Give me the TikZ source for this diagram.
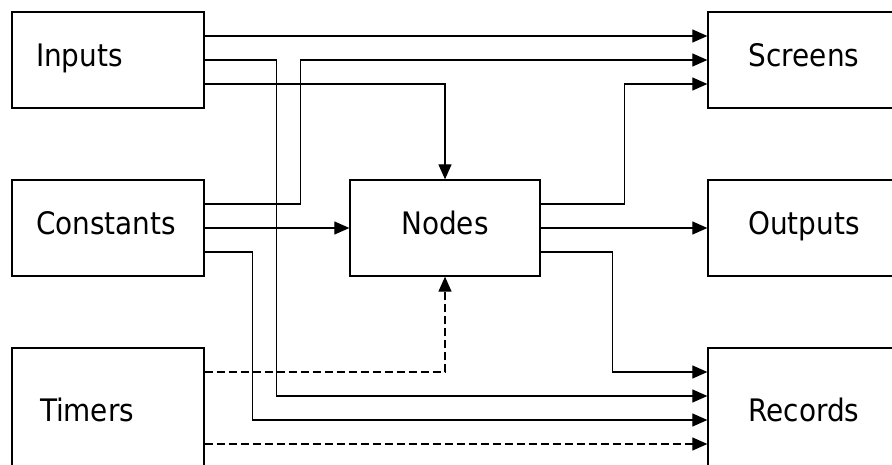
\documentclass[tikz,border=0pt]{standalone}
\usepackage{fontspec}
\setmainfont{DejaVu Sans Condensed}
\usetikzlibrary{arrows.meta}

\tikzset{
  box/.style={rectangle, draw, line width=1.3pt, minimum width=192pt, minimum height=96pt,
    inner sep=0pt, font=\fontsize{31}{36}\selectfont, text height=23pt, text depth=9pt},
  leftbox/.style={box, text width=144pt, inner xsep=24pt, align=left},
  tallbox/.style={minimum height=132pt},
  link/.style={line width=1.2pt, -{Triangle[length=15pt,width=13pt]}},
}

\begin{document}
\begin{tikzpicture}[x=1pt, y=-1pt]
  \useasboundingbox (0,0) rectangle (892,465);
  \clip (0,0) rectangle (892,465);

  % Define nodes
  \node (inputs) [leftbox] at (108,60) {Inputs};
  \node (constants) [leftbox] at (108,228) {Constants};
  \node (timers) [leftbox,tallbox,text width=140pt,inner xsep=26pt] at (108,414) {\hspace*{2pt}Timers};
  \node (nodes) [box,minimum width=190pt] at (445,228) {Nodes};
  \node (screens) [box] at (804,60) {Screens};
  \node (outputs) [box] at (804,228) {Outputs};
  \node (records) [box,tallbox] at (804,414) {Records};

  % Draw edges
  \draw [link] ([yshift=24pt]inputs.east) -- ([yshift=24pt]screens.west);
  \draw [link] (inputs.east) -- ++(72,0) |- ([yshift=18pt]records.west);
  \draw [link] ([yshift=-24pt]inputs.east) -| (nodes.north);
  \draw [link] ([yshift=24pt]constants.east) -- ++(96,0) |- (screens.west);
  \draw [link] (constants.east) -- (nodes.west);
  \draw [link] ([yshift=-24pt]constants.east) -- ++(48,0) |- ([yshift=-6pt]records.west);
  \draw [link] ([yshift=24pt]nodes.east) -- ++(84,0) |- ([yshift=-24pt]screens.west);
  \draw [link] (nodes.east) -- (outputs.west);
  \draw [link] ([yshift=-24pt]nodes.east) -- ++(72,0) |- ([yshift=42pt]records.west);
  \draw [link,dash pattern=on 8pt off 4pt] ([yshift=42pt]timers.east) -| (nodes.south);
  \draw [link,dash pattern=on 8pt off 4pt] ([yshift=-30pt]timers.east) -- ([yshift=-30pt]records.west);
\end{tikzpicture}
\end{document}
